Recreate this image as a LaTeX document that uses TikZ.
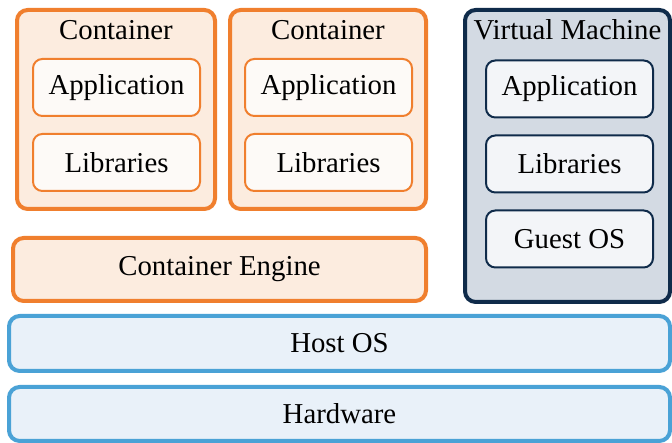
\documentclass[tikz,border=0pt]{standalone}
\usepackage{fontspec}
\setmainfont{Liberation Serif}
\usepackage{tikz}

\definecolor{ctorange}{HTML}{F07F2E}
\definecolor{ctfill}{HTML}{FCECDF}
\definecolor{ctinner}{HTML}{FDFAF7}
\definecolor{vmblue}{HTML}{0F2B4A}
\definecolor{vmfill}{HTML}{D3DAE3}
\definecolor{vminner}{HTML}{F3F5F8}
\definecolor{hostblue}{HTML}{4AA2D6}
\definecolor{hostfill}{HTML}{E9F1F9}

\tikzset{
    layer/.style={rounded corners=4pt, line width=1.5pt, inner sep=0pt},
    part/.style={rounded corners=3.5pt, line width=0.75pt, inner sep=0pt,
        minimum width=167*0.375pt, minimum height=57*0.375pt},
    container/.style={layer, draw=ctorange, fill=ctfill},
    vm/.style={layer, draw=vmblue, fill=vmfill},
    host/.style={layer, draw=hostblue, fill=hostfill},
    ctpart/.style={part, draw=ctorange, fill=ctinner},
    vmpart/.style={part, draw=vmblue, fill=vminner},
}

\begin{document}
\begin{tikzpicture}[x=0.375pt, y=-0.375pt, font=\fontsize{10.8}{13}\selectfont]
        \useasboundingbox (0,0) rectangle (672,443);

        % containers
        \node[container, minimum width=198*0.375pt, minimum height=199*0.375pt] (cont1) at (116,109.5) {};
        \node[container, minimum width=196*0.375pt, minimum height=199*0.375pt] (cont2) at (328,109.5) {};
        \node (cont1title) at (116,30) {Container};
        \node (cont2title) at (328,30) {Container};
        \node[ctpart] (app1) at (116.5,87.5) {Application};
        \node[ctpart] (lib1) at (116.5,162.5) {Libraries};
        \node[ctpart] (app2) at (328.5,87.5) {Application};
        \node[ctpart] (lib2) at (328.5,162.5) {Libraries};

        % virtual machine
        \node[vm, minimum width=205*0.375pt, minimum height=292*0.375pt] (vm) at (567.5,156) {};
        \node (vmtitle) at (567.5,30) {Virtual Machine};
        \node[vmpart] (app3) at (569.5,89) {Application};
        \node[vmpart] (lib3) at (569.5,164) {Libraries};
        \node[vmpart] (guest) at (569.5,239) {Guest OS};

        % engine and host
        \node[container, minimum width=413*0.375pt, minimum height=63*0.375pt] (engine) at (219.5,269.5) {Container Engine};
        \node[host, minimum width=661*0.375pt, minimum height=55*0.375pt] (hostos) at (339.5,343.5) {Host OS};
        \node[host, minimum width=661*0.375pt, minimum height=54*0.375pt] (hardware) at (339.5,414) {Hardware};
    \end{tikzpicture}
\end{document}
